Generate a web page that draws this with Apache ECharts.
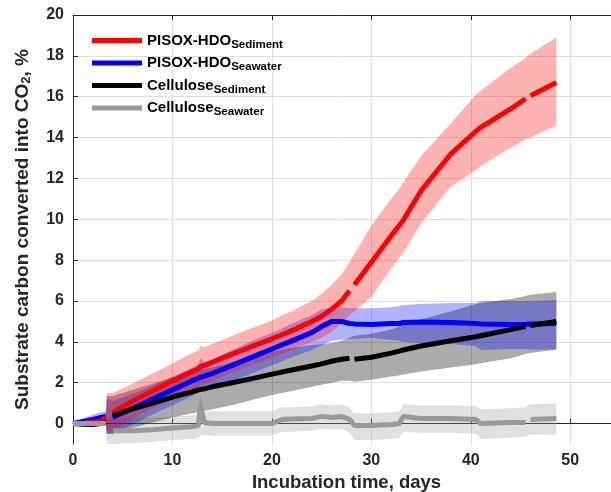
<!DOCTYPE html>
<html><head><meta charset="utf-8">
<script src="https://cdn.jsdelivr.net/npm/echarts@6/dist/echarts.min.js"></script>
<style>html,body{margin:0;padding:0;background:#fff}#c{width:611px;height:492px}</style>
</head><body><div id="c"></div>
<script>
// Incubation time, days
const days = [0, 1, 2, 2.8, 3.3, 3.4, 4.0, 6, 8, 10, 12, 12.6, 12.8, 13.2, 14, 16, 18, 20, 21, 22, 24, 25, 26, 27, 27.8, 28.0, 28.3, 30, 32, 32.8, 33.2, 35, 38, 40.5, 41, 44, 45.5, 45.7, 46, 48.6];

// PISOX-HDO Sediment
const redMean = [0, 0.02, 0.05, 0.1, 0.3, null, 0.55, 1.1, 1.6, 2.1, 2.55, 2.68, 2.78, 2.85, 3.0, 3.4, 3.78, 4.15, 4.35, 4.55, 5.0, 5.25, 5.6, 6.0, 6.5, null, 6.8, 7.9, 9.2, 9.7, 9.95, 11.4, 13.2, 14.3, 14.5, 15.4, 15.9, null, 16.05, 16.7];
const redLow = [0, -0.05, -0.05, 0, 0.05, -0.4, -0.35, 0.25, 0.75, 1.2, 1.65, 1.78, 1.88, 1.95, 2.1, 2.5, 2.88, 3.25, 3.4, 3.6, 4.0, 4.2, 4.5, 4.9, 5.3, 5.4, 5.5, 6.2, 7.6, 8.1, 8.35, 9.8, 11.6, 12.4, 12.6, 13.5, 13.9, 13.95, 14.0, 14.6];
const redHigh = [0, 0.08, 0.12, 0.25, 0.55, 1.5, 1.5, 1.95, 2.45, 2.95, 3.45, 3.58, 3.8, 3.75, 3.9, 4.3, 4.68, 5.05, 5.3, 5.5, 6.0, 6.35, 6.8, 7.3, 7.9, 8.1, 8.3, 9.7, 11.0, 11.5, 11.8, 13.1, 14.7, 16.1, 16.3, 17.4, 17.9, 18.0, 18.1, 18.9];

// PISOX-HDO Seawater
const blueMean = [0, 0.1, 0.2, 0.3, 0.35, null, 0.3, 0.75, 1.2, 1.65, 2.1, 2.22, 2.3, 2.32, 2.45, 2.85, 3.25, 3.65, 3.85, 4.05, 4.45, 4.75, 5.0, 5.0, 4.9, 4.89, 4.88, 4.85, 4.9, 4.9, 4.95, 4.97, 4.95, 4.9, 4.88, 4.85, 4.85, 4.86, 4.87, 4.9];
const blueLow = [0, -0.05, 0, 0.05, 0.05, -0.5, -0.5, -0.05, 0.45, 0.9, 1.35, 1.5, 1.55, 1.6, 1.75, 2.1, 2.45, 2.85, 3.05, 3.25, 3.6, 3.85, 4.05, 4.1, 4.15, 4.15, 4.15, 4.2, 4.1, 4.05, 4.0, 3.95, 3.9, 3.8, 3.6, 3.65, 3.65, 3.64, 3.63, 3.63];
const blueHigh = [0, 0.25, 0.45, 0.55, 0.6, 1.2, 1.1, 1.45, 1.85, 2.3, 2.75, 2.9, 3.2, 3.0, 3.15, 3.6, 4.05, 4.45, 4.65, 4.9, 5.3, 5.6, 5.7, 5.7, 5.65, 5.65, 5.65, 5.65, 5.7, 5.75, 5.8, 5.85, 5.9, 5.9, 6.0, 6.0, 6.0, 6.0, 6.0, 6.05];

// Cellulose Sediment
const blackMean = [0, -0.03, -0.05, 0, 0.05, null, 0.4, 0.72, 1.0, 1.3, 1.55, 1.65, 1.72, 1.7, 1.8, 2.0, 2.2, 2.42, 2.52, 2.62, 2.82, 2.92, 3.05, 3.15, 3.2, null, 3.15, 3.25, 3.45, 3.55, 3.6, 3.8, 4.05, 4.25, 4.3, 4.6, 4.75, null, 4.8, 5.0];
const blackLow = [0, -0.1, -0.12, -0.1, -0.1, -0.5, -0.5, -0.2, 0.05, 0.3, 0.5, 0.55, 0.6, 0.62, 0.7, 0.9, 1.15, 1.4, 1.5, 1.6, 1.8, 1.9, 2.0, 2.1, 2.1, 2.08, 2.05, 2.15, 2.3, 2.35, 2.4, 2.55, 2.75, 2.9, 2.95, 3.2, 3.4, 3.43, 3.45, 3.63];
const blackHigh = [0, 0.05, 0.05, 0.12, 0.2, 1.35, 1.35, 1.65, 1.95, 2.25, 2.5, 2.6, 2.7, 2.65, 2.75, 3.0, 3.25, 3.5, 3.6, 3.7, 3.85, 3.9, 3.95, 4.05, 4.2, 4.25, 4.3, 4.4, 4.6, 4.75, 4.85, 5.1, 5.5, 5.85, 5.9, 6.1, 6.25, 6.28, 6.3, 6.44];

// Cellulose Seawater
const greyMean = [0, 0, 0, 0, 0, null, -0.35, -0.35, -0.3, -0.22, -0.15, -0.1, 0.85, 0.05, 0.0, 0.0, 0.0, 0.0, 0.2, 0.22, 0.25, 0.35, 0.3, 0.35, 0.2, 0.1, -0.1, -0.1, -0.05, 0.0, 0.35, 0.25, 0.25, 0.2, 0.0, 0.05, 0.05, null, 0.2, 0.25];
const greyLow = [0, -0.05, -0.05, -0.05, -0.05, -1.0, -1.0, -0.95, -0.9, -0.8, -0.75, -0.7, -0.6, -0.55, -0.6, -0.6, -0.6, -0.6, -0.4, -0.4, -0.35, -0.25, -0.3, -0.25, -0.45, -0.6, -0.8, -0.8, -0.75, -0.7, -0.4, -0.45, -0.45, -0.5, -0.75, -0.7, -0.65, -0.6, -0.55, -0.54];
const greyHigh = [0, 0.05, 0.05, 0.05, 0.05, 0.25, 0.25, 0.25, 0.3, 0.35, 0.4, 0.45, 1.4, 0.6, 0.6, 0.6, 0.6, 0.6, 0.8, 0.8, 0.85, 0.95, 0.9, 0.95, 0.8, 0.65, 0.5, 0.5, 0.55, 0.6, 0.95, 0.9, 0.9, 0.85, 0.7, 0.75, 0.8, 0.88, 0.95, 0.98];

const seriesNames = ['PISOX-HDO Sediment', 'PISOX-HDO Seawater', 'Cellulose Sediment', 'Cellulose Seawater'];
const yTicks = [0, 2, 4, 6, 8, 10, 12, 14, 16, 18, 20];
const xTicks = [0, 10, 20, 30, 40, 50];

const FONT = '"Liberation Sans", Arial, sans-serif';
const AXC = '#262626';

function band(low, high, color) {
  return {
    type: 'custom', silent: true, clip: true,
    data: days.map((d, i) => [d, low[i], high[i]]),
    encode: { x: 0, y: [1, 2] },
    renderItem: function (params, api) {
      if (params.dataIndex !== 0) return null;
      const up = days.map((d, i) => api.coord([d, high[i]]));
      const lo = days.map((d, i) => api.coord([d, low[i]])).reverse();
      return { type: 'polygon', shape: { points: up.concat(lo) }, style: { fill: color } };
    }
  };
}
function line(name, mean, color) {
  return {
    type: 'line', name: name, symbol: 'none', showSymbol: false, connectNulls: false,
    data: days.map((d, i) => [d, mean[i]]),
    lineStyle: { width: 5, color: color }, itemStyle: { color: color }
  };
}

const chart = echarts.init(document.getElementById('c'));
chart.setOption({
  animation: false,
  backgroundColor: '#fff',
  grid: { left: 73, top: 15, width: 547, height: 429, containLabel: false, outerBoundsMode: 'none' },
  legend: {
    left: 92, top: 33, orient: 'vertical', padding: 0, itemGap: 5,
    itemWidth: 50, itemHeight: 5, icon: 'rect',
    data: seriesNames,
    formatter: function (name) {
      const k = name.lastIndexOf(' ');
      return '{m|' + name.slice(0, k) + '}{s|' + name.slice(k + 1) + '}';
    },
    textStyle: {
      rich: {
        m: { fontSize: 15, fontWeight: 'bold', fontFamily: FONT, lineHeight: 20, color: '#000' },
        s: { fontSize: 11.5, fontWeight: 'bold', fontFamily: FONT, lineHeight: 6, verticalAlign: 'bottom', color: '#000' }
      }
    }
  },
  xAxis: [{
    type: 'value', min: 0, max: 55, interval: 10, position: 'bottom',
    name: 'Incubation time, days', nameLocation: 'middle', nameGap: 28,
    nameTextStyle: { fontSize: 18.5, fontWeight: 'bold', fontFamily: FONT, color: AXC },
    axisLine: { show: true, lineStyle: { color: AXC, width: 1 } },
    axisTick: { show: true, inside: true, length: 5, lineStyle: { color: AXC }, customValues: xTicks },
    axisLabel: { fontSize: 16, fontWeight: 'bold', fontFamily: FONT, color: AXC, margin: 9, customValues: xTicks },
    splitLine: { show: true, lineStyle: { color: '#dedede', width: 1 } }
  }, {
    type: 'value', min: 0, max: 55, interval: 10, position: 'top',
    axisLine: { show: true, onZero: false, lineStyle: { color: AXC, width: 1 } },
    axisTick: { show: true, inside: true, length: 5, lineStyle: { color: AXC }, customValues: xTicks },
    axisLabel: { show: false },
    splitLine: { show: false }
  }],
  yAxis: {
    type: 'value', min: -1, max: 20,
    name: '{a|Substrate carbon converted into CO}{b|2}{a|, %}',
    nameLocation: 'middle', nameGap: 40,
    nameTextStyle: {
      rich: {
        a: { fontSize: 19, fontWeight: 'bold', fontFamily: FONT, color: AXC, lineHeight: 21 },
        b: { fontSize: 13, fontWeight: 'bold', fontFamily: FONT, color: AXC, lineHeight: 4, verticalAlign: 'bottom' }
      }
    },
    axisLine: { show: true, onZero: false, lineStyle: { color: AXC, width: 1 } },
    axisTick: { show: true, inside: true, length: 5, lineStyle: { color: AXC }, customValues: yTicks },
    axisLabel: { fontSize: 16, fontWeight: 'bold', fontFamily: FONT, color: AXC, margin: 9, customValues: yTicks },
    splitLine: { show: true, lineStyle: { color: '#dedede', width: 1 } }
  },
  series: [
    band(greyLow, greyHigh, 'rgba(153,153,153,0.3)'),
    band(blackLow, blackHigh, 'rgba(0,0,0,0.33)'),
    band(blueLow, blueHigh, 'rgba(0,0,255,0.3)'),
    line(seriesNames[1], blueMean, '#0000ff'),
    band(redLow, redHigh, 'rgba(255,0,0,0.3)'),
    line(seriesNames[0], redMean, '#ff0000'),
    line(seriesNames[2], blackMean, '#000000'),
    line(seriesNames[3], greyMean, '#999999')
  ]
});
</script>
</body></html>
